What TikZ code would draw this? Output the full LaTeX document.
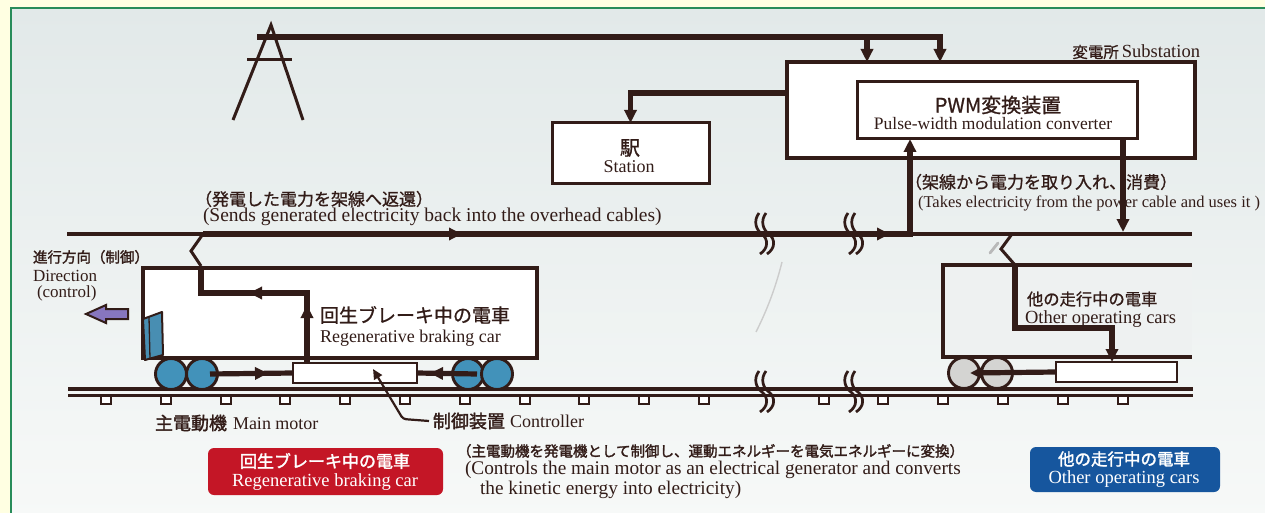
\documentclass[tikz,border=0pt]{standalone}
\usepackage{fontspec}
\setmainfont{Liberation Serif}
\newfontfamily\jp{Noto Sans CJK JP}[FakeBold=0.9]
\newfontfamily\jpb{Noto Sans CJK JP}[FakeBold=1.8]
\usetikzlibrary{arrows.meta,decorations.markings}
\definecolor{ink}{RGB}{50,28,24}
\definecolor{paper}{RGB}{255,255,226}
\definecolor{framegreen}{RGB}{40,140,90}
\definecolor{bgtop}{RGB}{226,233,233}
\definecolor{bgbot}{RGB}{247,249,248}
\definecolor{wheelblue}{RGB}{66,146,186}
\definecolor{wheelgrey}{RGB}{212,212,210}
\definecolor{cabblue}{RGB}{72,142,178}
\definecolor{dirpurple}{RGB}{135,118,190}
\definecolor{carfill}{RGB}{238,241,241}
\definecolor{badgered}{RGB}{196,22,38}
\definecolor{badgeblue}{RGB}{22,86,158}
\newcommand{\jpsz}[1]{\jp\fontsize{#1}{#1}\selectfont}
\newcommand{\jpbsz}[1]{\jpb\fontsize{#1}{#1}\selectfont}
\newcommand{\ensz}[1]{\rmfamily\fontsize{#1}{#1}\selectfont}
\newcommand{\flowtip}{\arrow{Triangle[length=13pt,width=12pt]}}

\begin{document}
\begin{tikzpicture}[x=1pt,y=-1pt,
  every node/.style={inner sep=0pt,outer sep=0pt,text=ink},
  box/.style={draw=ink,line width=3.3pt,fill=white,rectangle},
  flow/.style={draw=ink,line width=5.2pt},
  wire/.style={draw=ink,line width=3pt},
  arr/.style={-{Triangle[length=13pt,width=12pt]}},
  midarrows/.style={postaction={decorate},decoration={markings,#1}},
  wheel/.style={circle,draw=ink,line width=2.9pt,minimum size=31pt},
  sleeper/.style={draw=ink,line width=2pt,fill=white},
  breakmark/.pic={
    \foreach \d in {0,7}{
      \draw[ink,line width=2.7pt] (\d-3,-21) .. controls (\d-9,-13) and (\d-6,-4) .. (\d,0)
        .. controls (\d+6,5) and (\d+7,14) .. (\d-2,20);
    }
  },
]
\useasboundingbox (0,0) rectangle (1265,513);

% paper, panel and frame
\fill[paper] (0,0) rectangle (1265,513);
\shade[top color=bgtop,bottom color=bgbot] (11,8) rectangle (1275,520);
\draw[framegreen,line width=2.6pt] (11,520) -- (11,8) -- (1275,8);

% transmission tower
\draw[ink,line width=3pt,line join=miter] (233,120) -- (271,25) -- (303,120);
\draw[ink,line width=3pt] (247,60) -- (292,60);

% substation, converter and station
\node[box,minimum width=408pt,minimum height=96pt] (sub) at (991,110) {};
\node[box,line width=3pt,minimum width=280pt,minimum height=57pt] (pwm) at (997,110.5) {};
\node[box,line width=3pt,minimum width=157pt,minimum height=61pt] (station) at (630.5,153.5) {};

\node[anchor=east] (subTxt) at (1200,52) {\jpsz{15.5}変電所\hspace{3pt}\ensz{18.5}Substation};
\node (pwmJ) at (998,105) {\jpsz{20}PWM変換装置};
\node (pwmE) at (993,124) {\ensz{17.5}Pulse-width modulation converter};
\node (stJ) at (630,148) {\jpsz{20}駅};
\node (stE) at (629,167) {\ensz{18}Station};

% supply from the tower
\coordinate (feedL) at (257,37);
\coordinate (feedA) at (867,37);
\coordinate (feedB) at (940,37);
\draw[flow,arr] (feedL) -- (feedB) -- (feedB |- sub.north);
\draw[flow,arr] (feedA) -- (feedA |- sub.north);
\draw[flow,arr] ([yshift=-31pt]sub.north west) -| (station.north);

% overhead cable
\coordinate (cabL) at (67,234);
\coordinate (cabR) at (1192,234);
\draw[ink,line width=4pt] (cabL) -- (cabR);

% other operating car body (open to the right)
\fill[carfill] (943,265) rectangle (1192,357);
\draw[ink,line width=3.3pt] (1192,265) -- (943,265) -- (943,357) -- (1192,357);

% regenerative braking car body
\node[box,minimum width=394pt,minimum height=90pt] (carL) at (340,313) {};

% track
\foreach \sx in {106,166,226,285,345,405,465,525,584,644,704,824,883,943,1003,1063,1123}
  \draw[sleeper] (\sx-5,396) rectangle (\sx+5,404);
\draw[ink,line width=3.3pt] (68,389) -- (1193,389);
\draw[ink,line width=3.3pt] (68,395.5) -- (1193,395.5);

% controllers
\node[box,line width=2.9pt,minimum width=124pt,minimum height=20pt] (ctrlL) at (355,373) {};
\node[box,line width=2.9pt,minimum width=121pt,minimum height=20pt] (ctrlR) at (1116.5,372) {};

% wheels / main motors
\node[wheel,fill=wheelblue] (wL1) at (171,374) {};
\node[wheel,fill=wheelblue] (wL2) at (202,374) {};
\node[wheel,fill=wheelblue] (wL3) at (468,374) {};
\node[wheel,fill=wheelblue] (wL4) at (497,374) {};
\node[wheel,fill=wheelgrey] (wR1) at (964,373) {};
\node[wheel,fill=wheelgrey] (wR2) at (997,373) {};

% cab window and travel direction
\draw[ink,line width=2pt,fill=cabblue,line join=round] (143,319) -- (162,312) -- (163,355) -- (145,360) -- cycle;
\draw[ink,line width=1.3pt] (149,317) -- (150,359);
\draw[ink,line width=2pt,fill=dirpurple,line join=miter]
  (86,314) -- (106,305) -- (106,309) -- (128,309) -- (128,319) -- (106,319) -- (106,323) -- cycle;

% pantographs
\coordinate (panL) at (203,234);
\coordinate (panLb) at (201,266);
\draw[wire] (panL) -- (191,251) -- (panLb);
\coordinate (panR) at (1012,234);
\coordinate (panRb) at (1015,265);
\draw[wire] (panR) -- (1001,249) -- (panRb);

% power generated by braking, back into the cable
\draw[flow,midarrows={mark=at position 58pt with {\flowtip}}] ([xshift=8pt]wL2.center) -- (ctrlL.west);
\draw[flow,midarrows={mark=at position 47pt with {\flowtip}}] ([xshift=9pt]wL3.center) -- (ctrlL.east);
\draw[flow,midarrows={mark=at position 58pt with {\flowtip}, mark=at position 128pt with {\flowtip}}]
  ([xshift=-48pt]ctrlL.north) |- (201,293) -- (panLb);
\coordinate (upX) at (910,234);
\draw[flow,arr,midarrows={mark=at position 259pt with {\flowtip}, mark=at position 687pt with {\flowtip}}]
  (panL) -- (upX) -- (upX |- pwm.south);

% power taken from the cable by the other car
\coordinate (dropR) at (1123,232);
\draw[flow,arr] ([xshift=126pt]pwm.south) -- (dropR);
\draw[flow,arr] (panRb) |- (1112,328) -- ([xshift=-4.5pt]ctrlR.north);
\draw[flow,arr] (ctrlR.west) -- ([xshift=6pt]wR1.center);

% break marks
\pic at (762,234) {breakmark};
\pic at (851,234) {breakmark};
\pic at (762,392) {breakmark};
\pic at (851,392) {breakmark};

% faint strokes
\draw[gray!40,line width=1.4pt] (782,262) .. controls (775,290) and (766,312) .. (756,332);
\draw[gray!55,line width=2.8pt,line cap=round] (990,253) -- (998,243);

% labels
\node[anchor=west] (retJ) at (195,199) {\jpsz{17}（発電した電力を架線へ返還）};
\node[anchor=west] (retE) at (203,217) {\ensz{19.5}(Sends generated electricity back into the overhead cables)};
\node[anchor=west] (useJ) at (905,182) {\jpsz{17}（架線から電力を取り入れ、消費）};
\node[anchor=west] (useE) at (918,203) {\ensz{16.5}(Takes electricity from the power cable and uses it )};
\node[anchor=west] (dirJ) at (33,257) {\jpbsz{14.5}進行方向（制御）};
\node[anchor=west] (dirE1) at (33,276) {\ensz{17}Direction};
\node[anchor=west] (dirE2) at (37,293) {\ensz{17}(control)};
\node[anchor=west] (carJ) at (320,315) {\jpsz{19}回生ブレーキ中の電車};
\node[anchor=west] (carE) at (320,338) {\ensz{18}Regenerative braking car};
\node[anchor=west] (othJ) at (1027,299) {\jpsz{16.3}他の走行中の電車};
\node[anchor=west] (othE) at (1025,319) {\ensz{18.5}Other operating cars};
\node[anchor=west] (motTxt) at (155,423) {\jpbsz{18}主電動機\hspace{6pt}\ensz{18}Main motor};
\node[anchor=west] (ctrlTxt) at (433,421) {\jpbsz{18}制御装置\hspace{5pt}\ensz{18}Controller};
\draw[ink,line width=2.2pt,{Triangle[length=10pt,width=9pt]}-,rounded corners=3pt]
  ([xshift=18pt,yshift=4pt]ctrlL.center) -- (403,419) -- ([xshift=-4pt]ctrlTxt.west);
\node[anchor=west] (noteJ) at (457,451) {\jpbsz{14.5}（主電動機を発電機として制御し、運動エネルギーを電気エネルギーに変換）};
\node[anchor=west] (noteE1) at (465,470) {\ensz{19.3}(Controls the main motor as an electrical generator and converts};
\node[anchor=west] (noteE2) at (480,490) {\ensz{19.3}the kinetic energy into electricity)};

% legend badges
\node[rounded corners=6pt,fill=badgered,minimum width=235pt,minimum height=47pt] (badgeR) at (325.5,471.5) {};
\node[text=white] (badgeRJ) at (325,461) {\jpbsz{17}回生ブレーキ中の電車};
\node[text=white] (badgeRE) at (325,482) {\ensz{18.5}Regenerative braking car};
\node[rounded corners=6pt,fill=badgeblue,minimum width=190pt,minimum height=45pt] (badgeB) at (1125,469.5) {};
\node[text=white] (badgeBJ) at (1124,459) {\jpbsz{16.5}他の走行中の電車};
\node[text=white] (badgeBE) at (1124,479) {\ensz{18.5}Other operating cars};
\end{tikzpicture}
\end{document}
